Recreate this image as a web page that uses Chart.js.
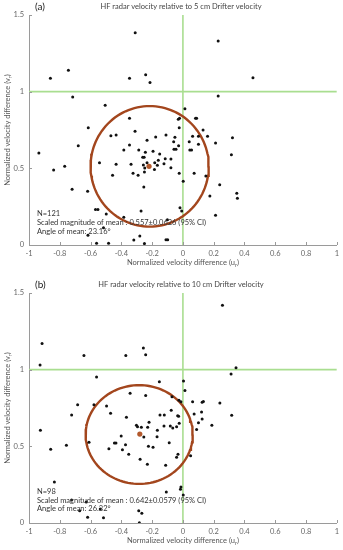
<!DOCTYPE html>
<html>
<head>
<meta charset="utf-8">
<script src="https://cdn.jsdelivr.net/npm/chart.js@4/dist/chart.umd.min.js"></script>
<style>
  body { margin: 0; background: #fff; }
  .panel { width: 343px; height: 275px; }
</style>
</head>
<body>
<div class="panel"><canvas id="chartA" width="343" height="275"></canvas></div>
<div class="panel"><canvas id="chartB" width="343" height="275"></canvas></div>
<script>
// axis ticks
const xTicks = [-1, -0.8, -0.6, -0.4, -0.2, 0, 0.2, 0.4, 0.6, 0.8, 1];
const yTicks = [0, 0.5, 1, 1.5];

// (a) 5 cm drifter: normalized velocity differences
const uA = [-0.31, 0.229, -0.744, -0.861, -0.242, -0.347, -0.214, 0.455, -0.716, 0.229,
  -0.505, 0.013, -0.347, -0.03, -0.022, 0.082, 0.089, -0.615, -0.024, -0.311,
  0.131, -0.468, -0.434, -0.177, -0.11, -0.052, 0.063, 0.101, 0.16, 0.322,
  -0.06, -0.233, 0.041, -0.347, -0.028, -0.68, 0.101, 0.212, -0.384, -0.287,
  -0.194, -0.244, -0.151, -0.058, -0.045, 0.045, 0.056, 0.315, -0.936, -0.261,
  -0.252, -0.115, -0.16, -0.078, -0.233, -0.183, -0.166, -0.123, -0.542, -0.434,
  -0.337, -0.768, -0.257, -0.248, -0.185, -0.078, -0.84, -0.25, -0.324, -0.291,
  -0.457, -0.024, 0.073, 0.149, 0.002, 0.239, -0.72, -0.254, -0.619, 0.35,
  0.175, 0.354, -0.019, -0.568, -0.552, -0.272, -0.008, -0.498, 0.212, -0.384,
  -0.101, -0.516, -0.617, -0.28, -0.319, -0.11, -0.099, -0.561, -0.483, -0.25];
const vA = [1.385, 1.33, 1.14, 1.087, 1.11, 1.087, 1.06, 1.09, 0.965, 0.972,
  0.911, 0.889, 0.826, 0.82, 0.826, 0.826, 0.826, 0.765, 0.765, 0.742,
  0.75, 0.713, 0.718, 0.705, 0.718, 0.702, 0.709, 0.709, 0.709, 0.7,
  0.674, 0.683, 0.674, 0.652, 0.648, 0.648, 0.657, 0.665, 0.62, 0.62,
  0.611, 0.605, 0.594, 0.624, 0.624, 0.62, 0.62, 0.589, 0.6, 0.572,
  0.572, 0.563, 0.552, 0.561, 0.537, 0.537, 0.52, 0.53, 0.537, 0.526,
  0.526, 0.513, 0.522, 0.502, 0.493, 0.504, 0.489, 0.476, 0.468, 0.455,
  0.455, 0.468, 0.468, 0.45, 0.415, 0.393, 0.363, 0.378, 0.35, 0.337,
  0.32, 0.305, 0.243, 0.232, 0.232, 0.222, 0.222, 0.202, 0.194, 0.181,
  0.165, 0.113, 0.063, 0.059, 0.033, 0.035, 0.035, 0.011, 0.011, 0.009];
const meanA = [-0.22, 0.513];
const ciA = { cx: -0.216, cy: 0.513, rx: 0.384, ry: 0.393 };
const notesA = ["N=121", "Scaled magnitude of mean : 0.557±0.0626 (95% CI)", "Angle of mean: 23.16°"];

// (b) 10 cm drifter
const uB = [0.257, -0.915, -0.928, -0.257, -0.643, -0.371, -0.242, 0.345, 0.313, -0.561,
  -0.153, 0.004, 0.013, -0.343, -0.242, -0.071, -0.026, -0.013, 0.063, 0.125,
  0.133, 0.24, -0.684, -0.578, -0.496, -0.723, -0.47, -0.367, -0.149, -0.121,
  -0.076, -0.034, -0.028, 0.073, 0.121, 0.125, 0.317, -0.926, -0.302, -0.295,
  -0.27, -0.22, -0.229, -0.123, -0.082, -0.066, -0.041, -0.024, 0.101, 0.188,
  0.089, -0.166, -0.254, -0.401, -0.168, -0.757, -0.61, -0.445, -0.435, -0.373,
  -0.089, -0.224, -0.194, -0.859, -0.481, -0.393, -0.352, -0.032, -0.041, 0.05,
  -0.278, -0.231, -0.112, -0.835, -0.013, -0.016, 0.002, -0.108, -0.723, -0.628,
  -0.537, -0.671, -0.287, -0.267, -0.619, -0.516, -0.283];
const vB = [1.42, 1.17, 1.03, 1.142, 1.092, 1.092, 1.097, 1.013, 0.972, 0.952,
  0.921, 0.926, 0.864, 0.847, 0.832, 0.823, 0.8, 0.79, 0.791, 0.787,
  0.792, 0.783, 0.772, 0.772, 0.763, 0.705, 0.715, 0.689, 0.705, 0.705,
  0.735, 0.7, 0.697, 0.711, 0.724, 0.678, 0.703, 0.605, 0.638, 0.627,
  0.624, 0.657, 0.624, 0.633, 0.633, 0.62, 0.628, 0.65, 0.654, 0.637,
  0.609, 0.605, 0.561, 0.567, 0.563, 0.507, 0.526, 0.522, 0.522, 0.511,
  0.524, 0.5, 0.494, 0.481, 0.485, 0.478, 0.448, 0.448, 0.429, 0.439,
  0.415, 0.383, 0.376, 0.267, 0.235, 0.22, 0.183, 0.202, 0.15, 0.137,
  0.091, 0.08, 0.08, 0.063, 0.037, 0.035, 0.002];
const meanB = [-0.28, 0.58];
const ciB = { cx: -0.284, cy: 0.577, rx: 0.348, ry: 0.322 };
const notesB = ["N=98", "Scaled magnitude of mean : 0.642±0.0579 (95% CI)", "Angle of mean: 26.32°"];

const FONT = "Lato";

function ellipsePoints(c) {
	const pts = [];
	for (let i = 0; i <= 120; i++) {
		const t = (i / 120) * 2 * Math.PI;
		pts.push({ x: c.cx + c.rx * Math.cos(t), y: c.cy + c.ry * Math.sin(t) });
	}
	return pts;
}

// label with a small subscript letter, e.g. (u_r)
function drawSubLabel(ctx, pre, sub, post, x, y) {
	ctx.font = `7.5px ${FONT}`;
	const w1 = ctx.measureText(pre).width;
	ctx.font = `5.5px ${FONT}`;
	const w2 = ctx.measureText(sub).width;
	ctx.font = `7.5px ${FONT}`;
	const w3 = ctx.measureText(post).width;
	let sx = x - (w1 + w2 + w3) / 2;
	ctx.textAlign = "left";
	ctx.fillText(pre, sx, y);
	ctx.font = `5.5px ${FONT}`;
	ctx.fillText(sub, sx + w1, y + 2.5);
	ctx.font = `7.5px ${FONT}`;
	ctx.fillText(post, sx + w1 + w2, y);
}

const panelText = {
	id: "panelText",
	afterDraw(chart, args, opts) {
		const { ctx, chartArea: a, scales } = chart;
		ctx.save();

		// inward tick marks
		ctx.strokeStyle = "#9a9a9a";
		ctx.lineWidth = 1;
		ctx.beginPath();
		for (const t of xTicks) {
			const px = Math.round(scales.x.getPixelForValue(t)) + 0.5;
			ctx.moveTo(px, a.bottom);
			ctx.lineTo(px, a.bottom - 3);
		}
		for (const t of yTicks) {
			const py = Math.round(scales.y.getPixelForValue(t)) + 0.5;
			ctx.moveTo(a.left, py);
			ctx.lineTo(a.left + 3, py);
		}
		ctx.stroke();

		ctx.textBaseline = "middle";
		// title and panel tag
		ctx.fillStyle = "#444";
		ctx.font = `7.5px ${FONT}`;
		ctx.textAlign = "center";
		ctx.fillText(opts.title, 181, opts.titleY);
		ctx.fillStyle = "#222";
		ctx.font = `10px ${FONT}`;
		ctx.textAlign = "left";
		ctx.fillText(opts.tag, 35, opts.titleY);

		// notes inside the plot
		ctx.fillStyle = "#333";
		ctx.font = `7.5px ${FONT}`;
		opts.notes.forEach((s, i) => ctx.fillText(s, 37, opts.notesY[i]));

		// axis titles
		ctx.fillStyle = "#555";
		drawSubLabel(ctx, "Normalized velocity difference (u", "r", ")", 183, opts.xLabelY);
		ctx.translate(8, (a.top + a.bottom) / 2);
		ctx.rotate(-Math.PI / 2);
		drawSubLabel(ctx, "Normalized velocity difference (v", "r", ")", 0, 0);
		ctx.restore();
	},
};

function makePanel(id, u, v, mean, ci, texts, padTop, xAxisH) {
	const pts = u.map((x, i) => ({ x: x, y: v[i] }));
	const ctx = document.getElementById(id).getContext("2d");
	return new Chart(ctx, {
		type: "scatter",
		data: {
			datasets: [
				{
					data: [{ x: mean[0], y: mean[1] }],
					pointRadius: 2.6,
					backgroundColor: "#b3592c",
					borderWidth: 0,
				},
				{
					data: pts,
					pointRadius: 1.5,
					backgroundColor: "#111",
					borderWidth: 0,
				},
				{
					data: ellipsePoints(ci),
					showLine: true,
					pointRadius: 0,
					borderColor: "#a3461d",
					borderWidth: 2.4,
					tension: 0,
				},
				{
					data: [{ x: -1, y: 1 }, { x: 1, y: 1 }],
					showLine: true,
					pointRadius: 0,
					borderColor: "#a9de90",
					borderWidth: 1.6,
				},
				{
					data: [{ x: 0, y: 0 }, { x: 0, y: 1.5 }],
					showLine: true,
					pointRadius: 0,
					borderColor: "#a9de90",
					borderWidth: 1.6,
				},
			],
		},
		options: {
			responsive: false,
			animation: false,
			layout: { padding: { top: padTop, right: 5, left: 0, bottom: 0 } },
			plugins: {
				legend: { display: false },
				tooltip: { enabled: false },
				panelText: texts,
			},
			scales: {
				x: {
					type: "linear",
					min: -1,
					max: 1,
					afterBuildTicks: (s) => { s.ticks = xTicks.map((t) => ({ value: t })); },
					afterFit: (s) => { s.height = xAxisH; },
					grid: { drawOnChartArea: false, drawTicks: false },
					border: { display: true, color: "#9a9a9a", width: 1 },
					ticks: {
						padding: 4,
						color: "#666",
						font: { family: FONT, size: 7.5 },
						callback: (val) => String(Math.round(val * 10) / 10),
					},
				},
				y: {
					type: "linear",
					min: 0,
					max: 1.5,
					afterBuildTicks: (s) => { s.ticks = yTicks.map((t) => ({ value: t })); },
					afterFit: (s) => { s.width = 29; },
					grid: { drawOnChartArea: false, drawTicks: false },
					border: { display: true, color: "#9a9a9a", width: 1 },
					ticks: {
						padding: 5,
						color: "#666",
						font: { family: FONT, size: 7.5 },
						callback: (val) => String(val),
					},
				},
			},
		},
		plugins: [panelText],
	});
}

makePanel("chartA", uA, vA, meanA, ciA, {
	title: "HF radar velocity relative to 5 cm Drifter velocity",
	tag: "(a)",
	titleY: 7,
	notes: notesA,
	notesY: [214, 222.5, 232],
	xLabelY: 263,
}, 15, 30);

makePanel("chartB", uB, vB, meanB, ciB, {
	title: "HF radar velocity relative to 10 cm Drifter velocity",
	tag: "(b)",
	titleY: 10,
	notes: notesB,
	notesY: [217, 225.5, 234],
	xLabelY: 266,
}, 18, 27);
</script>
</body>
</html>
